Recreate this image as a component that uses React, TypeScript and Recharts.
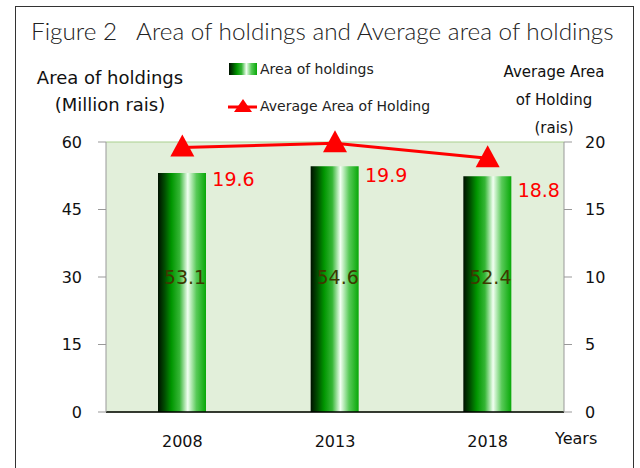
import React from 'react'
import { Bar, CartesianGrid, ComposedChart, LabelList, Line, XAxis, YAxis } from 'recharts'

const years = ['2008', '2013', '2018']
const areaOfHoldings = [53.1, 54.6, 52.4]
const avgAreaOfHolding = [19.6, 19.9, 18.8]
const leftTicks = [0, 15, 30, 45, 60]
const rightTicks = [0, 5, 10, 15, 20]

const data = years.map((year, i) => ({
  year,
  area: areaOfHoldings[i],
  avg: avgAreaOfHolding[i],
}))

const FONT = '"DejaVu Sans", Verdana, sans-serif'
const TITLE_FONT = 'Lato, "Open Sans", sans-serif'

const gradStops = [
  ['0%', '#001000'],
  ['14%', '#004e00'],
  ['28%', '#009600'],
  ['45%', '#36b636'],
  ['62%', '#f2fff2'],
  ['80%', '#58ca58'],
  ['100%', '#08a808'],
]

const Grad = ({ id }: { id: string }) => (
  <linearGradient id={id} x1="0" y1="0" x2="1" y2="0">
    {gradStops.map(([o, c]) => <stop key={o} offset={o} stopColor={c} />)}
  </linearGradient>
)

const Triangle = (props: any) => {
  const { cx, cy } = props
  if (cx == null || cy == null) return null
  return <path d={`M${cx},${cy - 13} L${cx + 12},${cy + 9} L${cx - 12},${cy + 9} Z`} fill="#ff0000" />
}

// bar values sit at the same height in every bar, roughly the 30 gridline
const BarValue = (props: any) => {
  const { x, y, width, height, value } = props
  return (
    <text x={x + width / 2 + 3} y={y + height - 135} textAnchor="middle" dominantBaseline="central"
      fontSize={19} fill="#3d3800" fontFamily={FONT}>
      {value}
    </text>
  )
}

const LineValue = (props: any) => {
  const { x, y, value } = props
  return (
    <text x={x + 30} y={y + 32} textAnchor="start" dominantBaseline="central"
      fontSize={19} fill="#ff0000" fontFamily={FONT}>
      {value}
    </text>
  )
}

const txt: React.CSSProperties = {
  position: 'absolute',
  fontFamily: FONT,
  whiteSpace: 'pre',
  color: '#111',
  lineHeight: 1,
}

const LegendBox = () => (
  <div style={{ position: 'absolute', left: 228, top: 61, fontFamily: FONT, fontSize: 14, color: '#222', lineHeight: 1 }}>
    <div style={{ display: 'flex', alignItems: 'center', height: 16 }}>
      <svg width={30} height={14}>
        <defs><Grad id="legendGrad" /></defs>
        <rect x={1} y={1} width={28} height={12} fill="url(#legendGrad)" />
      </svg>
      <span style={{ marginLeft: 2 }}>Area of holdings</span>
    </div>
    <div style={{ display: 'flex', alignItems: 'center', height: 16, marginTop: 21 }}>
      <svg width={30} height={16}>
        <line x1={0} y1={9} x2={29} y2={9} stroke="#ff0000" strokeWidth={3} />
        <path d="M15,1 L24,14 L6,14 Z" fill="#ff0000" />
      </svg>
      <span style={{ marginLeft: 2 }}>Average Area of Holding</span>
    </div>
  </div>
)

export default function App() {
  return (
    <div style={{ position: 'absolute', left: 0, top: 0, width: 640, height: 468, overflow: 'hidden', background: '#fff' }}>
      <div style={{ position: 'absolute', left: 15, top: 6, width: 617, height: 480, border: '1px solid #333' }} />
      <div style={{ ...txt, left: 31, top: 19, fontSize: 24.3, fontWeight: 300, color: '#222', fontFamily: TITLE_FONT }}>
        Figure 2   Area of holdings and Average area of holdings
      </div>
      <div style={{ ...txt, left: 30, top: 69, fontSize: 18, width: 160, textAlign: 'center' }}>Area of holdings</div>
      <div style={{ ...txt, left: 30, top: 96, fontSize: 18, width: 160, textAlign: 'center' }}>(Million rais)</div>
      <div style={{ ...txt, left: 494, top: 65, fontSize: 15, width: 120, textAlign: 'center' }}>Average Area</div>
      <div style={{ ...txt, left: 494, top: 93, fontSize: 15, width: 120, textAlign: 'center' }}>of Holding</div>
      <div style={{ ...txt, left: 494, top: 121, fontSize: 15, width: 120, textAlign: 'center' }}>(rais)</div>
      <div style={{ ...txt, left: 555, top: 431, fontSize: 16 }}>Years</div>
      <LegendBox />
      <div style={{ position: 'absolute', left: 0, top: 0 }}>
        <ComposedChart width={640} height={468} data={data}
          margin={{ top: 142, right: 0, bottom: 16, left: 0 }} barCategoryGap={0}>
          <defs>
            <Grad id="barGrad" />
          </defs>
          <CartesianGrid vertical={false} stroke="#a9d08e" fill="#e2efda" />
          <XAxis dataKey="year" axisLine={{ stroke: '#000', strokeWidth: 1.5 }} tickLine={false} tickSize={0}
            tickMargin={24} height={40} tick={{ fontSize: 16, fill: '#111', fontFamily: FONT }} />
          <YAxis yAxisId="left" orientation="left" width={106} domain={[0, 60]} ticks={leftTicks}
            axisLine={{ stroke: '#999' }} tickLine={{ stroke: '#999' }} tickSize={8} tickMargin={16}
            tick={{ fontSize: 16, fill: '#111', fontFamily: FONT }} />
          <YAxis yAxisId="right" orientation="right" width={76} domain={[0, 20]} ticks={rightTicks}
            axisLine={{ stroke: '#999' }} tickLine={{ stroke: '#999' }} tickSize={8} tickMargin={13}
            tick={{ fontSize: 16, fill: '#111', fontFamily: FONT }} />
          <Bar yAxisId="left" dataKey="area" name="Area of holdings" fill="url(#barGrad)" barSize={48}
            isAnimationActive={false}>
            <LabelList dataKey="area" content={<BarValue />} />
          </Bar>
          <Line yAxisId="right" dataKey="avg" name="Average Area of Holding" type="linear" stroke="#ff0000"
            strokeWidth={3} dot={<Triangle />} activeDot={false} isAnimationActive={false}>
            <LabelList dataKey="avg" content={<LineValue />} />
          </Line>
        </ComposedChart>
      </div>
    </div>
  )
}
